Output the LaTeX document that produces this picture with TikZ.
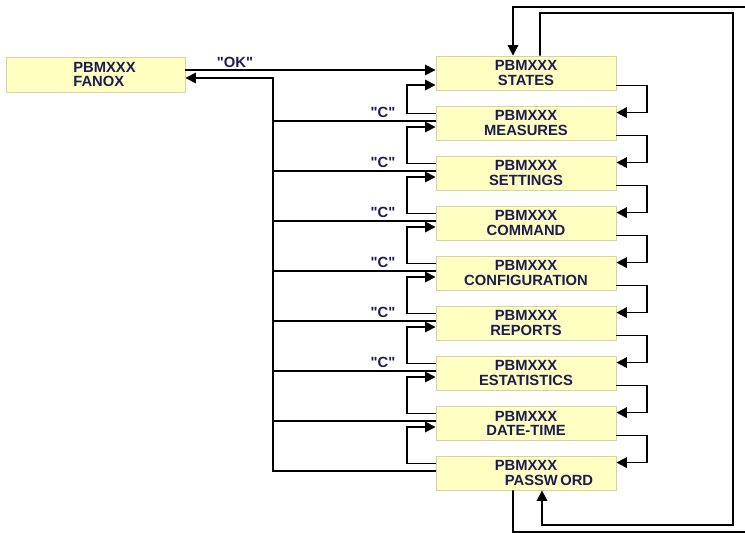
\documentclass[tikz,border=0pt]{standalone}
\usepackage{fontspec}
\setmainfont{Liberation Sans}
\usetikzlibrary{arrows.meta}

\definecolor{boxfill}{HTML}{FFFFC2}
\definecolor{boxline}{HTML}{D6D2A4}
\definecolor{navy}{HTML}{1C1C50}

\begin{document}
\begin{tikzpicture}[x=0.025cm, y=-0.025cm,
    menu/.style={draw=boxline, line width=0.6pt, fill=boxfill, minimum width=4.5cm, minimum height=0.85cm, inner sep=0pt, font=\fontsize{10.5}{10}\selectfont\bfseries, text=navy, align=center},
    lbl/.style={font=\fontsize{10.5}{10}\selectfont\bfseries, text=navy},
    arrow/.style={-{Triangle[length=2.6mm, width=2.6mm]}},
    line width=1.2pt,
]
\useasboundingbox (0,0) rectangle (745,533);
\clip (0,0) rectangle (745,533);

% Menu boxes
\node[menu, minimum width=4.475cm, minimum height=0.875cm, align=left] (f) at (95.5,74.5) {\hspace*{0.45cm}PBMXXX\\\hspace*{0.45cm}FANOX};
\foreach \name [count=\i from 0] in {STATES, MEASURES, SETTINGS, COMMAND, CONFIGURATION, REPORTS, ESTATISTICS, DATE-TIME} {
    \node[menu] (b\i) at (526, {73+50*\i}) {PBMXXX\\\name};
}
\node[menu] (b8) at (526, 473) {PBMXXX\\\hspace*{1.15cm}PASSW\,ORD};

% Helper x positions
\coordinate (bx) at (273,0);
\coordinate (lx) at (407,0);
\coordinate (rx) at (647,0);

% "OK" into STATES, return bus to FANOX
\coordinate (ok) at ([yshift=0.075cm]b0.west);
\draw[arrow] (ok -| f.east) -- (ok);
\node[lbl] (lok) at (235,62) {\textquotedbl OK\textquotedbl};
\coordinate (fin) at ([yshift=-0.0875cm]f.east);
\draw[arrow] ([yshift=0.05cm]b8.west) -| (fin -| bx) -- (fin);
\foreach \i in {1,...,7} {
    \draw ([yshift=0.05cm]b\i.west) coordinate (p) -- (p -| bx);
}

% "C" back to previous menu
\draw[arrow] ([yshift=-0.2cm]b1.north west) coordinate (p) -- (p -| lx) |- ([yshift=-0.3cm]b0.west);
\foreach \i [evaluate=\i as \j using int(\i-1)] in {2,...,8} {
    \draw[arrow] ([yshift=-0.2cm]b\i.north west) coordinate (p) -- (p -| lx) |- ([yshift=-0.1cm]b\j.west);
}
\foreach \k in {0,...,5} {
    \node[lbl] (lc\k) at (383, {112+50*\k}) {\textquotedbl C\textquotedbl};
}

% Next menu
\foreach \i [evaluate=\i as \j using int(\i+1)] in {0,...,7} {
    \draw[arrow] ([yshift=0.125cm]b\i.south east) coordinate (p) -- (p -| rx) |- ([yshift=-0.175cm]b\j.north east);
}

% Wrap around
\draw[arrow] ([xshift=-0.325cm]b8.south) |- (760,532) |- (513,7) -- ([xshift=-0.325cm]b0.north);
\draw[arrow] ([xshift=0.35cm]b0.north) |- (733,13) |- (542,525) -- ([xshift=0.4cm]b8.south);

\end{tikzpicture}
\end{document}
